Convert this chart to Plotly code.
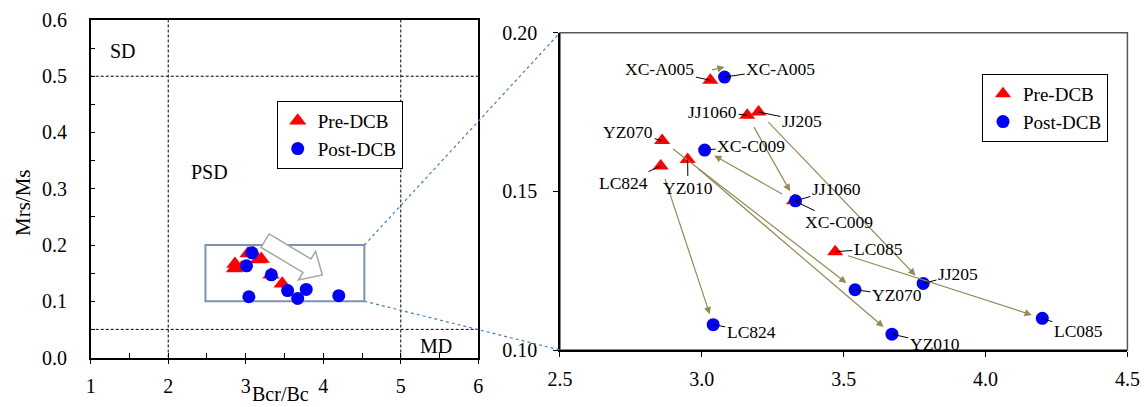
import plotly.graph_objects as go

# ---------------- data ----------------
samples = ["XC-A005", "JJ1060", "JJ205", "YZ070", "LC824", "YZ010", "XC-C009", "LC085"]
pre_x = [3.03, 3.16, 3.20, 2.86, 2.855, 2.95, 3.325, 3.47]
pre_y = [0.185, 0.174, 0.175, 0.166, 0.158, 0.160, 0.147, 0.131]
post_x = [3.08, 3.33, 3.78, 3.54, 3.04, 3.67, 3.01, 4.20]
post_y = [0.186, 0.147, 0.121, 0.119, 0.108, 0.105, 0.163, 0.110]

# label text positions (right panel)
pre_lab_x = [2.852, 3.038, 3.353, 2.740, 2.724, 2.951, 3.484, 3.622]
pre_lab_y = [0.1885, 0.1751, 0.1722, 0.1687, 0.1526, 0.1512, 0.1403, 0.1319]
post_lab_x = [3.278, 3.474, 3.903, 3.688, 3.174, 3.821, 3.174, 4.327]
post_lab_y = [0.1887, 0.1508, 0.1238, 0.1172, 0.1058, 0.1019, 0.1643, 0.1061]

left_xticks = [1, 2, 3, 4, 5, 6]
left_yticks = [0.0, 0.1, 0.2, 0.3, 0.4, 0.5, 0.6]
right_xticks = [2.5, 3.0, 3.5, 4.0, 4.5]
right_yticks = [0.10, 0.15, 0.20]

FONT = "Liberation Serif, Times New Roman, DejaVu Serif, serif"
RED = "#FF0000"
BLUE = "#0000FF"
OLIVE = "#948A54"

LX = [0.0793, 0.4181]
LY = [0.1216, 0.9509]
RX = [0.4895, 0.9855]
RY = [0.1400, 0.9197]

fig = go.Figure()

# left panel
fig.add_trace(go.Scatter(x=pre_x, y=pre_y, mode="markers", name="Pre-DCB",
                         marker=dict(symbol="triangle-up", size=15, color=RED),
                         xaxis="x", yaxis="y", legend="legend"))
fig.add_trace(go.Scatter(x=post_x, y=post_y, mode="markers", name="Post-DCB",
                         marker=dict(symbol="circle", size=13, color=BLUE),
                         xaxis="x", yaxis="y", legend="legend"))
# right panel
fig.add_trace(go.Scatter(x=pre_x, y=pre_y, mode="markers", name="Pre-DCB",
                         marker=dict(symbol="triangle-up", size=14, color=RED),
                         xaxis="x2", yaxis="y2", legend="legend2"))
fig.add_trace(go.Scatter(x=post_x, y=post_y, mode="markers", name="Post-DCB",
                         marker=dict(symbol="circle", size=13, color=BLUE),
                         xaxis="x2", yaxis="y2", legend="legend2"))

annotations = []
# change arrows
for i, s in enumerate(samples):
    close = abs(post_x[i] - pre_x[i]) < 0.1 and abs(post_y[i] - pre_y[i]) < 0.01
    annotations.append(dict(
        x=post_x[i], y=post_y[i], ax=pre_x[i], ay=pre_y[i],
        xref="x2", yref="y2", axref="x2", ayref="y2", text="",
        showarrow=True, arrowhead=2, arrowsize=1.2, arrowwidth=1.2,
        arrowcolor=OLIVE,
        standoff=0 if close else 11, startstandoff=0 if close else 12,
        yshift=10 if close else 0))
# leader labels
for i, s in enumerate(samples):
    for lx, ly, px, py in ((pre_lab_x[i], pre_lab_y[i], pre_x[i], pre_y[i]),
                           (post_lab_x[i], post_lab_y[i], post_x[i], post_y[i])):
        annotations.append(dict(
            x=px, y=py, ax=lx, ay=ly, xref="x2", yref="y2", axref="x2", ayref="y2",
            text=s, showarrow=True, arrowhead=0, arrowwidth=1, arrowcolor="black",
            standoff=0, font=dict(family=FONT, size=17.5, color="black")))
# zone labels
for t, zx, zy in (("SD", 1.417, 0.545), ("PSD", 2.526, 0.33), ("MD", 5.454, 0.0204)):
    annotations.append(dict(x=zx, y=zy, xref="x", yref="y", text=t, showarrow=False,
                            font=dict(family=FONT, size=20, color="black")))
# axis titles
annotations.append(dict(x=0.2456, y=0.031, xref="paper", yref="paper", text="Bcr/Bc",
                        xanchor="center", yanchor="middle",
                        showarrow=False, font=dict(family=FONT, size=20, color="black")))
annotations.append(dict(x=0.0201, y=0.5037, xref="paper", yref="paper", text="Mrs/Ms",
                        xanchor="center", yanchor="middle",
                        textangle=-90, showarrow=False,
                        font=dict(family=FONT, size=21, color="black")))

shapes = []
dash_line = dict(color="black", width=1, dash="3px,2px")
for xv in (2, 5):
    shapes.append(dict(type="line", xref="x", yref="y", x0=xv, x1=xv, y0=0, y1=0.6,
                       line=dash_line, layer="below"))
for yv in (0.5, 0.05):
    shapes.append(dict(type="line", xref="x", yref="y", x0=1, x1=6, y0=yv, y1=yv,
                       line=dash_line, layer="below"))
# zoom rectangle
rx0, rx1, ry0, ry1 = 2.48, 4.53, 0.1, 0.2
shapes.append(dict(type="rect", xref="x", yref="y", x0=rx0, x1=rx1, y0=ry0, y1=ry1,
                   line=dict(color="#7F93B0", width=2), layer="below"))
# hollow arrow
arrow_path = ("M 3.301,0.2196 L 3.841,0.1751 L 3.901,0.1886 L 3.988,0.1467 "
              "L 3.679,0.1378 L 3.738,0.1513 L 3.197,0.1957 Z")
shapes.append(dict(type="path", xref="x", yref="y", path=arrow_path,
                   line=dict(color="#A6A6A6", width=1.5), fillcolor="white", layer="above"))


def lp(xv, yv):
    return (LX[0] + (xv - 1) / 5 * (LX[1] - LX[0]), LY[0] + yv / 0.6 * (LY[1] - LY[0]))


for yv, ry in ((ry1, RY[1]), (ry0, RY[0])):
    px0, py0 = lp(rx1, yv)
    shapes.append(dict(type="line", xref="paper", yref="paper", x0=px0, y0=py0,
                       x1=RX[0], y1=ry, line=dict(color="#4A7EBB", width=1.2, dash="dot")))
# right panel frame (gray top/right)
shapes.append(dict(type="rect", xref="x2 domain", yref="y2 domain", x0=0, x1=1, y0=0, y1=1,
                   line=dict(color="#595959", width=1.5), layer="below"))

tickfont = dict(family=FONT, size=20, color="black")
legfont = dict(family=FONT, size=19, color="black")

fig.update_layout(
    width=1144, height=407, autosize=False,
    margin=dict(l=0, r=0, t=0, b=0, pad=0, autoexpand=False),
    paper_bgcolor="white", plot_bgcolor="white",
    showlegend=True,
    font=dict(family=FONT, color="black"),
    xaxis=dict(domain=LX, range=[1, 6], tickvals=left_xticks, tickformat="d",
               showgrid=False, zeroline=False, showline=True, linecolor="black",
               linewidth=1.5, mirror=True, ticks="outside", ticklen=5, tickcolor="black",
               tickfont=tickfont, ticklabelstandoff=5, automargin=False,
               minor=dict(dtick=0.5, ticks="inside", ticklen=5, tickcolor="black"),
               anchor="y"),
    yaxis=dict(domain=LY, range=[0, 0.6], tickvals=left_yticks, tickformat=".1f",
               showgrid=False, zeroline=False, showline=True, linecolor="black",
               linewidth=1.5, mirror=True, ticks="inside", ticklen=5, tickcolor="black",
               tickfont=tickfont, ticklabelstandoff=18, automargin=False,
               minor=dict(dtick=0.05, ticks="inside", ticklen=5, tickcolor="black"),
               anchor="x"),
    xaxis2=dict(domain=RX, range=[2.5, 4.5], tickvals=right_xticks, tickformat=".1f",
                showgrid=False, zeroline=False, showline=True, linecolor="black",
                linewidth=1.5, ticks="outside", ticklen=5, tickcolor="black",
                tickfont=tickfont, ticklabelstandoff=5, automargin=False,
                ticklabeloverflow="allow", anchor="y2"),
    yaxis2=dict(domain=RY, range=[0.10, 0.20], tickvals=right_yticks, tickformat=".2f",
                showgrid=False, zeroline=False, showline=True, linecolor="black",
                linewidth=1.5, ticks="outside", ticklen=5, tickcolor="black",
                tickfont=tickfont, ticklabelstandoff=12, automargin=False, anchor="x2"),
    legend=dict(x=0.2419, y=0.7518, xanchor="left", yanchor="top", bgcolor="white",
                bordercolor="black", borderwidth=1, font=legfont, itemwidth=30,
                tracegroupgap=0),
    legend2=dict(x=0.8584, y=0.8182, xanchor="left", yanchor="top", bgcolor="white",
                 bordercolor="black", borderwidth=1, font=legfont, itemwidth=30,
                 tracegroupgap=0),
    annotations=annotations,
    shapes=shapes,
)

fig.write_html("out.html")
